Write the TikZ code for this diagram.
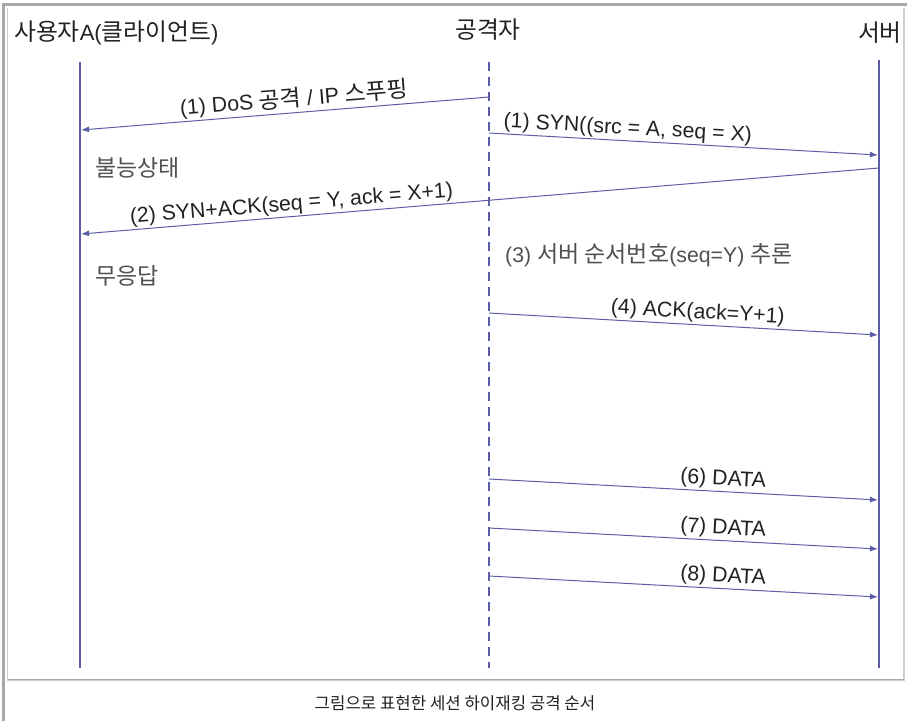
\documentclass[tikz,border=0pt]{standalone}
\usepackage{fontspec}
\setmainfont{Liberation Sans}
\newfontfamily\kr[Scale=1.08]{Noto Sans CJK KR}
\usetikzlibrary{arrows.meta}
\definecolor{ln}{RGB}{92,94,165}
\definecolor{tx}{RGB}{34,34,34}
\definecolor{gtx}{RGB}{80,80,80}
\definecolor{fr}{RGB}{168,168,168}
\definecolor{frl}{RGB}{205,205,205}
\begin{document}
\begin{tikzpicture}[x=1pt,y=-1pt,
  life/.style={ln, line width=1.8pt},
  midlife/.style={ln, line width=1.8pt, dash pattern=on 9pt off 6pt},
  msg/.style={ln, line width=1pt, -{Latex[length=8pt,width=6pt]}},
  lbl/.style={font=\fontsize{21.3}{25}\selectfont, text=tx, inner sep=1.5pt, sloped, above},
  hdr/.style={font=\fontsize{22}{26}\selectfont, text=tx, inner sep=0pt},
  note/.style={font=\fontsize{21.3}{25}\selectfont, text=gtx, inner sep=0pt, anchor=west},
  captxt/.style={font=\fontsize{15.5}{18}\selectfont, text=tx, inner sep=0pt}]
\useasboundingbox (0,0) rectangle (907,721);
% frame
\fill[white] (0,0) rectangle (907,721);
\draw[fr, line width=3pt] (2,4.5) -- (907,4.5);
\draw[fr, line width=3pt] (3.5,3) -- (3.5,721);
\draw[frl, line width=1.5pt] (7.5,8) -- (7.5,680) -- (904,680) -- (904,8);
\draw[fr, line width=1.2pt] (7.5,679.5) -- (904,679.5);
% lifelines
\coordinate (Lt) at (80,62);  \coordinate (Lb) at (80,668);
\coordinate (Mt) at (489,62); \coordinate (Mb) at (489,668);
\coordinate (Rt) at (879,60); \coordinate (Rb) at (879,668);
\draw[life] (Lt) -- (Lb);
\draw[midlife] (Mt) -- (Mb);
\draw[life] (Rt) -- (Rb);
% headers
\node[hdr, anchor=west] (hA) at (14,33) {{\kr 사용자}A({\kr 클라이언트})};
\node[hdr] (hM) at (488,30) {\kr 공격자};
\node[hdr, anchor=east] (hR) at (902,33) {\kr 서버};
% message points
\coordinate (m1) at (489,97);  \coordinate (l1) at (81,130);
\coordinate (m2) at (489,133); \coordinate (r2) at (878,155);
\coordinate (r3) at (879,168); \coordinate (l3) at (81,234);
\coordinate (m4) at (489,313); \coordinate (r4) at (878,335);
\coordinate (m6) at (489,479); \coordinate (r6) at (878,500);
\coordinate (m7) at (489,528); \coordinate (r7) at (878,549);
\coordinate (m8) at (489,576); \coordinate (r8) at (878,597);
% messages
\draw[msg] (m1) -- node[lbl, pos=0.475] (t1) {(1) DoS {\kr 공격} / IP {\kr 스푸핑}} (l1);
\draw[msg] (m2) -- node[lbl, pos=0.355] (t2) {(1) SYN((src = A, seq = X)} (r2);
\draw[msg] (r3) -- node[lbl, pos=0.735] (t3) {(2) SYN+ACK(seq = Y, ack = X+1)} (l3);
\draw[msg] (m4) -- node[lbl, pos=0.535] (t4) {(4) ACK(ack=Y+1)} (r4);
\draw[msg] (m6) -- node[lbl, pos=0.6] (t6) {(6) DATA} (r6);
\draw[msg] (m7) -- node[lbl, pos=0.6] (t7) {(7) DATA} (r7);
\draw[msg] (m8) -- node[lbl, pos=0.6] (t8) {(8) DATA} (r8);
% notes
\node[note] (n1) at (95,168) {\kr 불능상태};
\node[note] (n2) at (95,276) {\kr 무응답};
\node[note] (n3) at (505,255) {(3) {\kr 서버 순서번호}(seq=Y) {\kr 추론}};
% caption
\node[captxt] (c) at (455,703) {\kr 그림으로 표현한 세션 하이재킹 공격 순서};
\end{tikzpicture}
\end{document}
